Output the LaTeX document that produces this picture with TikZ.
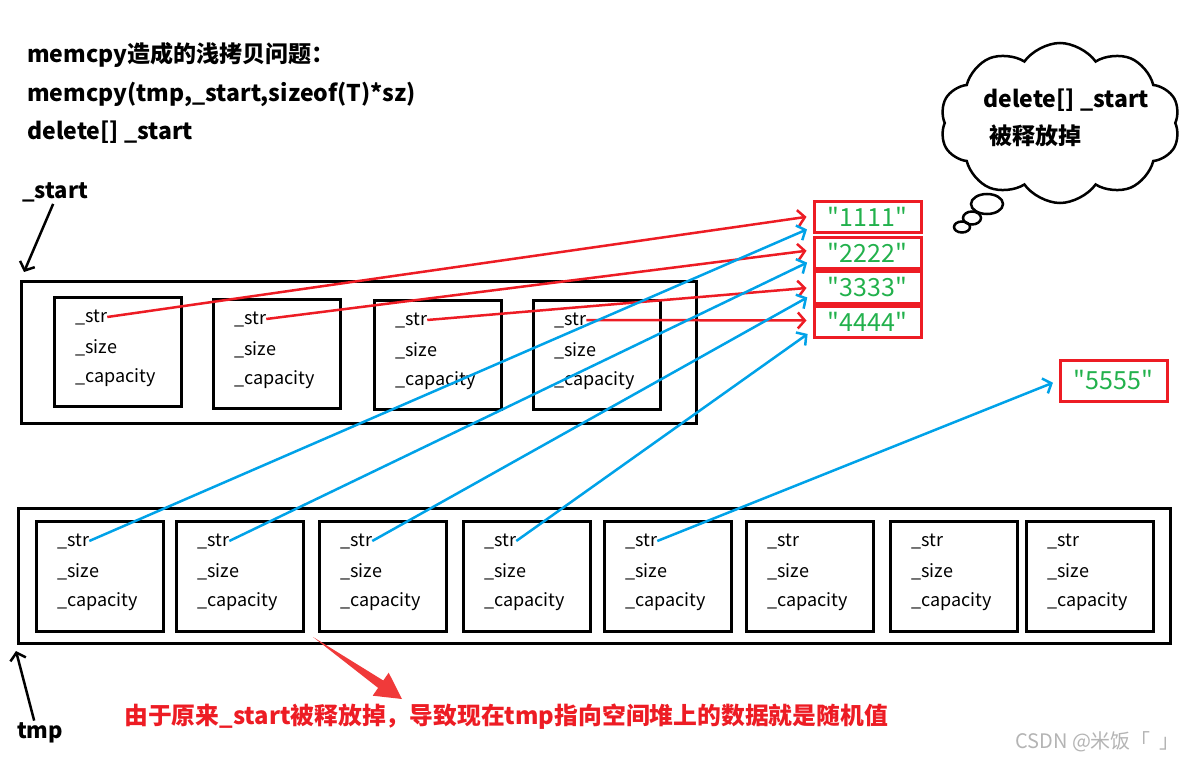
\documentclass[tikz,border=0pt]{standalone}
\usepackage{fontspec}
\setmainfont{Noto Sans CJK SC}
\newfontfamily\strfont{Noto Sans CJK SC}[Ligatures=TeXOff]
\usetikzlibrary{arrows.meta,shapes.symbols,shapes.geometric,calc}
\definecolor{pRed}{HTML}{ED1C24}
\definecolor{pBlue}{HTML}{00A2E8}
\definecolor{pGreen}{HTML}{22B14C}
\definecolor{aRed}{HTML}{F03A3A}
\definecolor{wmGray}{HTML}{B4B4B4}
\begin{document}
\begin{tikzpicture}[x=1pt,y=-1pt,
  boxx/.style={draw, line width=3pt, minimum width=127pt, minimum height=109pt, anchor=north west, inner sep=0},
  outerbox/.style={draw, line width=3pt, anchor=north west, inner sep=0},
  field/.style={font=\fontsize{18}{18}\selectfont, anchor=west, inner sep=0},
  titletext/.style={font=\bfseries\fontsize{23}{23}\selectfont, anchor=west, inner sep=0},
  labeltext/.style={font=\bfseries\fontsize{22}{22}\selectfont, anchor=west, inner sep=0},
  strbox/.style={draw=pRed, line width=3pt, text=pGreen, font=\strfont\fontsize{25}{25}\selectfont, minimum width=107pt, minimum height=31pt, inner sep=0},
  redarr/.style={draw=pRed, line width=2.5pt, -{Straight Barb[length=7pt,width=16pt]}, shorten >=6pt},
  bluearr/.style={draw=pBlue, line width=2.5pt, -{Straight Barb[length=7pt,width=16pt]}, shorten >=6pt},
  blkarr/.style={draw=black, line width=2.5pt, -{Straight Barb[length=7pt,width=16pt]}},
  bubble/.style={draw, ellipse, line width=2.5pt, inner sep=0}
]
\useasboundingbox (0,0) rectangle (1192,762);

% titles
\node[titletext] (t1) at (27,55) {memcpy造成的浅拷贝问题：};
\node[titletext] (t2) at (27,94) {memcpy(tmp,\_start,sizeof(T)*sz)};
\node[titletext] (t3) at (27,132) {delete[] \_start};
\node[labeltext] (lstart) at (22,192) {\_start};
\node[labeltext] (ltmp) at (17,733) {tmp};

% outer boxes
\node[outerbox, minimum width=675pt, minimum height=142pt] (o1) at (20,280) {};
\node[outerbox, minimum width=1152pt, minimum height=135pt] (o2) at (17,507) {};

% row 1
\foreach \i/\x/\y in {1/53/296, 2/212/298, 3/373/299, 4/532/299} {
  \node[boxx] (a\i) at (\x,\y) {};
  \node[field] (as\i) at ([xshift=22pt,yshift=-21pt]a\i.north west) {\_str};
  \node[field] (az\i) at ([xshift=22pt,yshift=-52pt]a\i.north west) {\_size};
  \node[field] (ac\i) at ([xshift=22pt,yshift=-82pt]a\i.north west) {\_capacity};
}
% row 2
\foreach \i/\x in {1/35, 2/175, 3/318, 4/462, 5/603, 6/745, 7/889, 8/1025} {
  \node[boxx, minimum height=110pt] (b\i) at (\x,520) {};
  \node[field] (bs\i) at ([xshift=22pt,yshift=-21pt]b\i.north west) {\_str};
  \node[field] (bz\i) at ([xshift=22pt,yshift=-52pt]b\i.north west) {\_size};
  \node[field] (bc\i) at ([xshift=22pt,yshift=-82pt]b\i.north west) {\_capacity};
}

% strings
\node[strbox] (v1) at (867.5,217) {"1111"};
\node[strbox] (v2) at (867.5,253) {"2222"};
\node[strbox] (v3) at (867.5,287.5) {"3333"};
\node[strbox] (v4) at (867.5,321.5) {"4444"};
\node[strbox, minimum height=41pt] (v5) at (1113.5,380.5) {"5555"};

% red arrows
\draw[redarr] (as1.east) -- ([yshift=1pt]v1.west);
\draw[redarr] (as2.east) -- ([yshift=3pt]v2.west);
\draw[redarr] (as3.east) -- (v3.west);
\draw[redarr] (as4.east) -- ([yshift=1pt]v4.west);
% blue arrows
\draw[bluearr] (bs1.east) -- ([yshift=-10pt]v1.west);
\draw[bluearr] (bs2.east) -- ([yshift=-7pt]v2.west);
\draw[bluearr] (bs3.east) -- ([yshift=-7pt]v3.west);
\draw[bluearr] (bs4.east) -- ([yshift=-9pt]v4.west);
\draw[bluearr] (bs5.east) -- (v5.west);

% black pointers
\draw[blkarr] ([xshift=-2pt,yshift=-2pt]lstart.south) -- ([xshift=4pt,yshift=8pt]o1.north west);
\draw[blkarr] ([xshift=-6pt,yshift=2pt]ltmp.north) -- ([xshift=-1pt,yshift=-6pt]o2.south west);

% cloud
\node[cloud, draw, line width=2.5pt, cloud puffs=10, cloud puff arc=110, aspect=1.5, minimum width=240pt, minimum height=160pt, inner sep=0] (cl) at (1060,123) {};
\node[bubble, minimum width=32pt, minimum height=20pt] (bb1) at (987,204) {};
\node[bubble, minimum width=18pt, minimum height=13pt] (bb2) at (972,218) {};
\node[bubble, minimum width=16pt, minimum height=11pt] (bb3) at (962,227) {};
\node[titletext] (ct1) at (983,100) {delete[] \_start};
\node[titletext] (ct2) at (989,136) {被释放掉};

% big red arrow
\coordinate (rs) at (313,637);
\coordinate (rt) at (402,699);
\fill[aRed] (rs) -- (383.3,680.5) -- (388.7,672.7) -- (rt) -- (372.7,695.7) -- (378.1,687.9) -- cycle;

% note
\node[titletext, text=pRed, font=\bfseries\fontsize{23.8}{23.8}\selectfont] (note) at (124,717) {由于原来\_start被释放掉，导致现在tmp指向空间堆上的数据就是随机值};

% watermark
\node[anchor=west, inner sep=0, text=wmGray, font=\fontsize{20}{20}\selectfont] (wm) at (1015,742) {CSDN @米饭「\ \ 」};
\end{tikzpicture}
\end{document}
